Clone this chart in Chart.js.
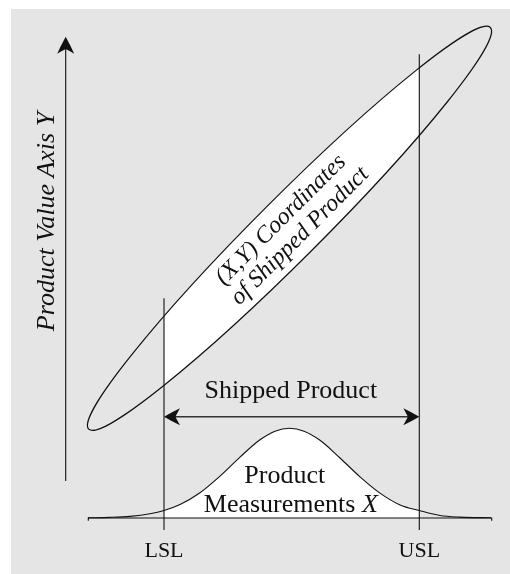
<!DOCTYPE html>
<html lang="en">
<head>
<meta charset="UTF-8">
<title>Shipped Product</title>
<script src="https://cdn.jsdelivr.net/npm/chart.js"></script>
<style>
  body { margin: 0; background: #fff; }
  #panel { position: absolute; left: 11px; top: 9px; width: 499px; height: 565px; background: #e5e5e5; }
  #wrap { position: absolute; left: 0; top: 0; width: 510px; height: 574px; }
</style>
</head>
<body>
<div id="panel"></div>
<div id="wrap"><canvas id="chart" width="510" height="574"></canvas></div>
<script>
// spec limits on the measurement axis
const LSL = 16.4;
const USL = 41.93;

const bellX = [8.8, 11.0, 13.0, 15.0, 16.4, 18.0, 20.0, 22.0, 24.0, 26.0, 27.5, 28.95,
               30.4, 32.0, 34.0, 36.0, 38.0, 40.0, 41.93, 44.0, 46.0, 49.1];
const bellY = [0.02, 0.06, 0.16, 0.42, 0.75, 1.35, 2.53, 4.19, 6.09, 7.82, 8.68, 8.97,
               8.68, 7.77, 6.0, 4.12, 2.49, 1.31, 0.75, 0.25, 0.09, 0.02];

// axes and limit lines (start, end)
const xAxisSpan = [8.83, 49.17];
const yAxisX = 6.57;
const yAxisSpan = [3.7, 48.13];
const lslSpan = [-1.2, 21.97];
const uslSpan = [-1.2, 46.37];
const shippedArrowY = 10.13;

// ellipse of (X,Y) pairs: centre, semi axes, tilt in degrees
const ellipseCenter = [28.95, 28.97];
const ellipseAxes = [28.4, 3.14];
const ellipseTilt = 45;

// texts
const limitLabels = ['LSL', 'USL'];
const yTitle = 'Product Value Axis Y';
const cloudLabel = ['(X,Y) Coordinates', 'of Shipped Product'];
const rangeLabel = 'Shipped Product';
const bellLabel = ['Product', 'Measurements ', 'X'];

const SERIF = '"Liberation Serif", "DejaVu Serif", serif';
const INK = '#111';

function seg(x0, y0, x1, y1) {
    return [{x: x0, y: y0}, {x: x1, y: y1}];
}

function lineSet(data, extra) {
    return Object.assign({
        data: data,
        borderColor: INK,
        borderWidth: 1.1,
        pointRadius: 0,
        fill: false,
    }, extra || {});
}

// filled arrow head, tip at (x, y), pointing along angle
function arrowHead(ctx, x, y, angle, len, w) {
    ctx.save();
    ctx.translate(x, y);
    ctx.rotate(angle);
    ctx.beginPath();
    ctx.moveTo(0, 0);
    ctx.quadraticCurveTo(-len * 0.55, -w * 0.3, -len, -w / 2);
    ctx.quadraticCurveTo(-len * 0.78, -w * 0.14, -len * 0.72, 0);
    ctx.quadraticCurveTo(-len * 0.78, w * 0.14, -len, w / 2);
    ctx.quadraticCurveTo(-len * 0.55, w * 0.3, 0, 0);
    ctx.closePath();
    ctx.fillStyle = INK;
    ctx.fill();
    ctx.restore();
}

const diagram = {
    id: 'diagram',
    beforeDatasetsDraw(chart) {
        const {ctx, scales: {x, y}} = chart;
        const cx = x.getPixelForValue(ellipseCenter[0]);
        const cy = y.getPixelForValue(ellipseCenter[1]);
        const rx = x.getPixelForValue(ellipseCenter[0] + ellipseAxes[0]) - cx;
        const ry = x.getPixelForValue(ellipseCenter[0] + ellipseAxes[1]) - cx;
        const rot = -ellipseTilt * Math.PI / 180;
        const l = x.getPixelForValue(LSL);
        const r = x.getPixelForValue(USL);

        // white only between the limits
        ctx.save();
        ctx.beginPath();
        ctx.rect(l, 0, r - l, chart.height);
        ctx.clip();
        ctx.beginPath();
        ctx.ellipse(cx, cy, rx, ry, rot, 0, Math.PI * 2);
        ctx.fillStyle = '#fff';
        ctx.fill();
        ctx.restore();

        ctx.save();
        ctx.beginPath();
        ctx.ellipse(cx, cy, rx, ry, rot, 0, Math.PI * 2);
        ctx.strokeStyle = INK;
        ctx.lineWidth = 1.2;
        ctx.stroke();
        ctx.restore();
    },
    afterDatasetsDraw(chart) {
        const {ctx, scales: {x, y}} = chart;

        // arrow heads
        arrowHead(ctx, x.getPixelForValue(yAxisX), y.getPixelForValue(yAxisSpan[1]), -Math.PI / 2, 17, 17);
        arrowHead(ctx, x.getPixelForValue(LSL), y.getPixelForValue(shippedArrowY), Math.PI, 16, 17);
        arrowHead(ctx, x.getPixelForValue(USL), y.getPixelForValue(shippedArrowY), 0, 16, 17);

        ctx.save();
        ctx.fillStyle = INK;
        ctx.textAlign = 'center';
        ctx.textBaseline = 'alphabetic';

        // LSL / USL
        ctx.font = '22px ' + SERIF;
        ctx.fillText(limitLabels[0], x.getPixelForValue(LSL), y.getPixelForValue(-3.87));
        ctx.fillText(limitLabels[1], x.getPixelForValue(USL), y.getPixelForValue(-3.87));

        // range label over the arrow
        ctx.font = '26px ' + SERIF;
        ctx.fillText(rangeLabel, x.getPixelForValue(29.08), y.getPixelForValue(11.97));

        // bell label
        ctx.fillText(bellLabel[0], x.getPixelForValue(28.48), y.getPixelForValue(3.47));
        const normal = '26px ' + SERIF;
        const ital = 'italic 26px ' + SERIF;
        ctx.font = normal;
        const w1 = ctx.measureText(bellLabel[1]).width;
        ctx.font = ital;
        const w2 = ctx.measureText(bellLabel[2]).width;
        const start = x.getPixelForValue(29.08) - (w1 + w2) / 2;
        const base = y.getPixelForValue(0.63);
        ctx.textAlign = 'left';
        ctx.font = normal;
        ctx.fillText(bellLabel[1], start, base);
        ctx.font = ital;
        ctx.fillText(bellLabel[2], start + w1, base);

        // vertical axis title
        ctx.save();
        ctx.translate(54, y.getPixelForValue(29.65));
        ctx.rotate(-Math.PI / 2);
        ctx.textAlign = 'center';
        ctx.font = 'italic 26px ' + SERIF;
        ctx.fillText(yTitle, 0, 0);
        ctx.restore();

        // label along the ellipse
        ctx.save();
        ctx.translate(x.getPixelForValue(ellipseCenter[0]), y.getPixelForValue(ellipseCenter[1]));
        ctx.rotate(-ellipseTilt * Math.PI / 180);
        ctx.textAlign = 'center';
        ctx.textBaseline = 'middle';
        ctx.font = 'italic 24px ' + SERIF;
        ctx.fillText(cloudLabel[0], 0, -12);
        ctx.fillText(cloudLabel[1], 2, 13);
        ctx.restore();

        ctx.restore();
    }
};

const bellData = bellX.map((v, i) => ({x: v, y: bellY[i]}));

new Chart(document.getElementById('chart'), {
    type: 'line',
    data: {
        datasets: [
            lineSet(seg(LSL, lslSpan[0], LSL, lslSpan[1])),
            lineSet(seg(USL, uslSpan[0], USL, uslSpan[1])),
            lineSet(seg(yAxisX, yAxisSpan[0], yAxisX, yAxisSpan[1] - 1.0)),
            lineSet([{x: xAxisSpan[0], y: -0.27}, {x: xAxisSpan[0], y: 0},
                     {x: xAxisSpan[1], y: 0}, {x: xAxisSpan[1], y: -0.27}]),
            lineSet(seg(LSL + 1, shippedArrowY, USL - 1, shippedArrowY), {borderColor: '#333', borderWidth: 1.4}),
            // bell curve, white between the limits
            lineSet(bellData, {cubicInterpolationMode: 'monotone', fill: 6, backgroundColor: '#fff'}),
            // band between the limits that the fill runs down to
            lineSet(seg(LSL, 0, USL, 0), {borderWidth: 0, borderColor: 'rgba(0,0,0,0)'}),
        ],
    },
    options: {
        responsive: false,
        animation: false,
        events: [],
        layout: {padding: 0},
        scales: {
            x: {type: 'linear', min: 0, max: 51, display: false},
            y: {type: 'linear', min: -5.6, max: 51.8, display: false},
        },
        plugins: {
            legend: {display: false},
            tooltip: {enabled: false},
        },
    },
    plugins: [diagram],
});
</script>
</body>
</html>
